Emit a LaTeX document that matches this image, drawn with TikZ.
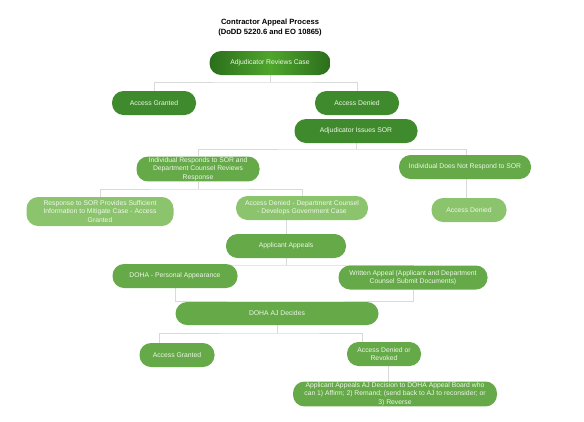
\documentclass[tikz,border=0pt]{standalone}
\usepackage{fontspec}
\setmainfont{Liberation Sans}
\usetikzlibrary{backgrounds}
\definecolor{gdark}{HTML}{2B6E1C}
\definecolor{gmid}{HTML}{4FA52C}
\definecolor{glevel}{HTML}{3F8A2C}
\definecolor{gmed}{HTML}{65A948}
\definecolor{glight}{HTML}{8CC46E}
\definecolor{txt}{HTML}{EEF8E8}
\definecolor{lin}{HTML}{D9D9D9}
\tikzset{
  pill/.style={rectangle, rounded corners=11.5pt, draw=none, text=txt, align=center,
    inner sep=1pt, font=\fontsize{6.8}{8.3}\selectfont},
  darkpill/.style={pill, left color=gdark, right color=gdark, middle color=gmid},
  levelpill/.style={pill, fill=glevel},
  medpill/.style={pill, fill=gmed},
  lightpill/.style={pill, fill=glight},
  conn/.style={draw=lin, line width=0.9pt},
  ttl/.style={font=\fontsize{7.6}{10}\selectfont\bfseries, align=center, text=black}
}
\begin{document}
\begin{tikzpicture}[x=1pt, y=-1pt]
\useasboundingbox (0,0) rectangle (584,421);
\node[ttl] (title) at (270,27.5) {Contractor Appeal Process\\(DoDD 5220.6 and EO 10865)};
\node[darkpill, minimum width=121pt, minimum height=24pt] (n1) at (270,63) {Adjudicator Reviews Case};
\node[levelpill, minimum width=84pt, minimum height=24pt] (n2) at (154,103) {Access Granted};
\node[levelpill, minimum width=84pt, minimum height=24pt] (n3) at (357,103) {Access Denied};
\node[levelpill, minimum width=123pt, minimum height=24pt] (n4) at (356,131) {Adjudicator Issues SOR};
\node[medpill, minimum width=123pt, minimum height=24pt] (n5) at (198,169) {Individual Responds to SOR and\\Department Counsel Reviews\\Response};
\node[medpill, minimum width=132pt, minimum height=24pt] (n6) at (465,167) {Individual Does Not Respond to SOR};
\node[lightpill, minimum width=147pt, minimum height=29pt] (n7) at (100,211.5) {Response to SOR Provides Sufficient\\Information to Mitigate Case - Access\\Granted};
\node[lightpill, minimum width=132pt, minimum height=24pt] (n8) at (302,208) {Access Denied - Department Counsel\\- Develops Government Case};
\node[lightpill, minimum width=75pt, minimum height=24pt] (n9) at (469,210) {Access Denied};
\node[medpill, minimum width=120pt, minimum height=24pt] (n10) at (286,246) {Applicant Appeals};
\node[medpill, minimum width=125pt, minimum height=24pt] (n11) at (175,276) {DOHA - Personal Appearance};
\node[medpill, minimum width=149pt, minimum height=24pt] (n12) at (413,277.5) {Written Appeal (Applicant and Department\\Counsel Submit Documents)};
\node[medpill, minimum width=203pt, minimum height=23pt] (n13) at (277,313.5) {DOHA AJ Decides};
\node[medpill, minimum width=75pt, minimum height=24pt] (n14) at (177,355) {Access Granted};
\node[medpill, minimum width=74pt, minimum height=24pt] (n15) at (384,354) {Access Denied or\\Revoked};
\node[medpill, minimum width=204pt, minimum height=24pt] (n16) at (395,394) {Applicant Appeals AJ Decision to DOHA Appeal Board who\\can 1) Affirm; 2) Remand; (send back to AJ to reconsider; or\\3) Reverse};
\coordinate (j1) at (270,82);
\coordinate (j2) at (356,149);
\coordinate (j3) at (198,189);
\coordinate (j4) at (286,265);
\coordinate (j5) at (277,301);
\coordinate (j6) at (277,333);
\coordinate (a14) at (159,343);
\coordinate (a15) at (362,342);
\coordinate (a16) at (388,382);
\begin{scope}[on background layer]
\draw[conn] (n1.south) -- (j1);
\draw[conn] (n2.north) |- (j1) -| (n3.north);
\draw[conn] (n4.south) -- (j2);
\draw[conn] (n5.north) |- (j2) -| (n6.north -| 466,0);
\draw[conn] (n5.south) -- (j3);
\draw[conn] (n7.north) |- (j3) -| (n8.north);
\draw[conn] (n6.south -| 466,0) -- (n9.north -| 466,0);
\draw[conn] (n10.north |- n8.south) -- (n10.north);
\draw[conn] (n10.south) -- (j4);
\draw[conn] (n11.north) |- (j4) -| (n12.north);
\draw[conn] (n11.south) |- (j5) -| (n12.south);
\draw[conn] (n13.south) -- (j6);
\draw[conn] (a14) |- (j6) -| (a15);
\draw[conn] (n15.south -| a16) -- (a16);
\end{scope}
\end{tikzpicture}
\end{document}
